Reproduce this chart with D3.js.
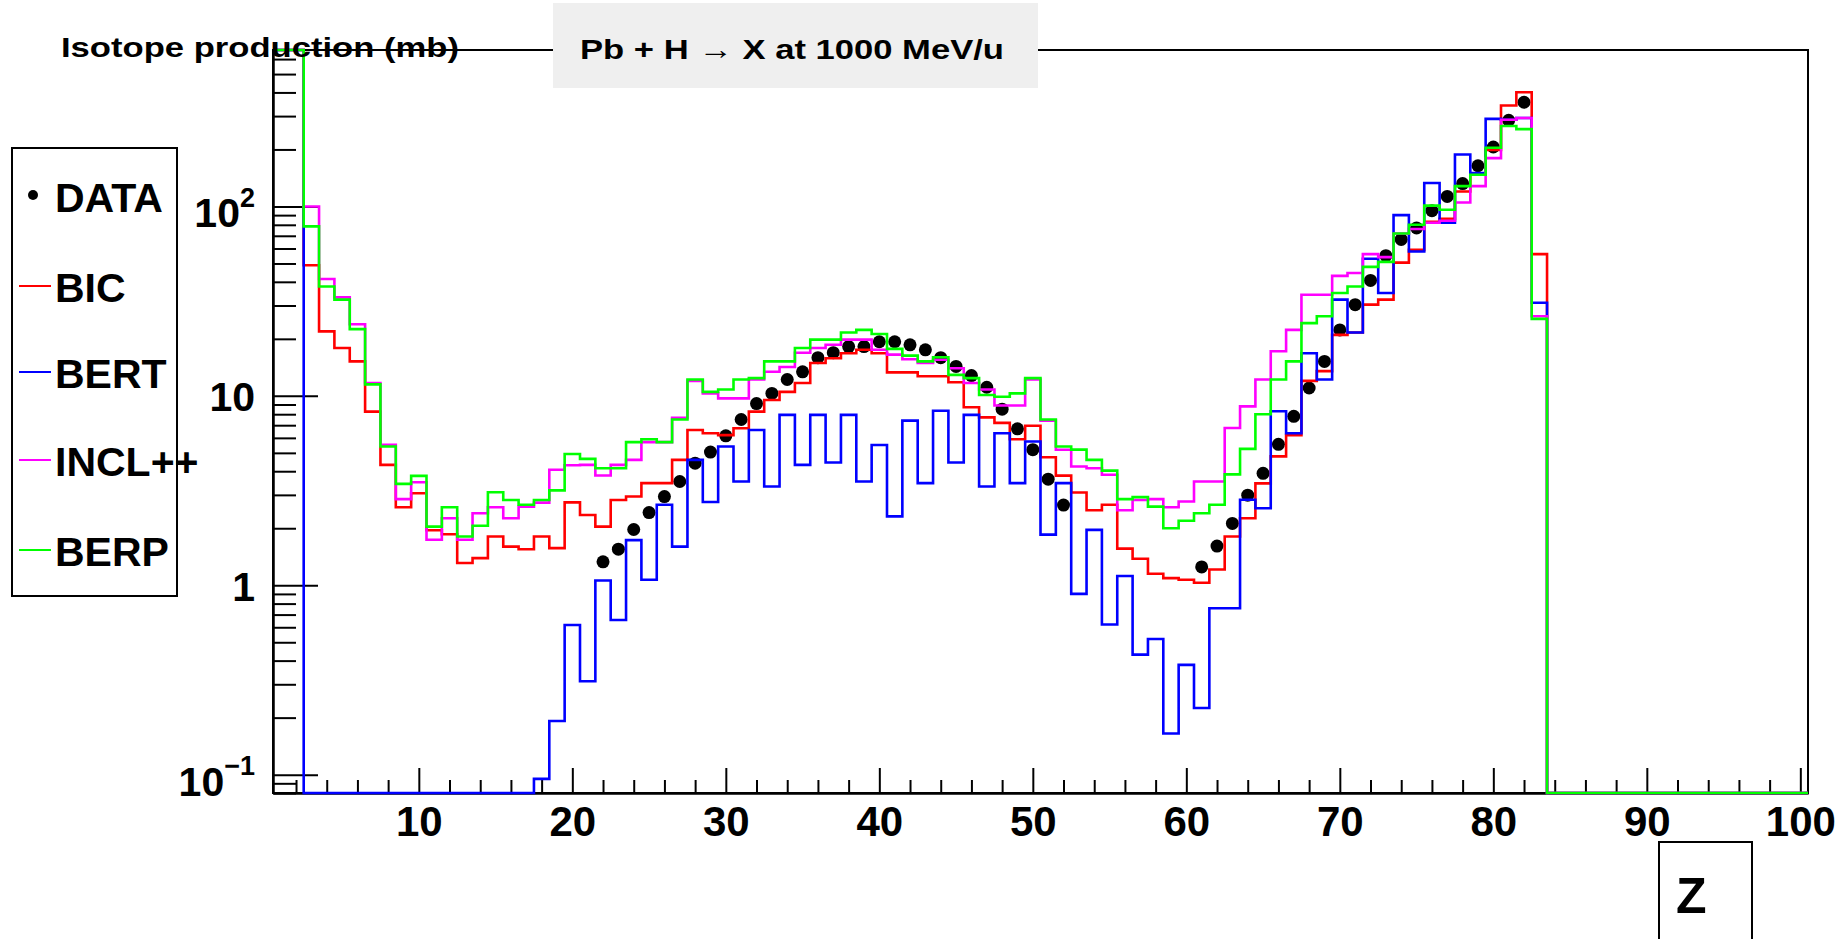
<!DOCTYPE html>
<html>
<head>
<meta charset="utf-8">
<script src="https://cdn.jsdelivr.net/npm/d3@7"></script>
<style>
  body { margin: 0; background: #fff; }
  text { font-family: "Liberation Sans", Arial, Helvetica, sans-serif; font-weight: bold; fill: #000; }
</style>
</head>
<body>
<div class="chart"></div>
<script>
// Pb + H -> X at 1000 MeV/u, isotope production vs Z

// DATA ------------------------------------------
// one value per Z bin, starting at Z = 1; bins past the end of a list are empty
// Z = 1, 2 are far above the plot range (clipped at the top)
const bic = [
  2000, 1000, 48.9, 21.9, 17.9, 15.2, 8.26, 4.32, 2.58, 3.06,
  1.95, 1.86, 1.31, 1.39, 1.81, 1.60, 1.55, 1.81, 1.57, 2.74,
  2.35, 2.04, 2.82, 2.94, 3.46, 3.46, 4.59, 6.6, 6.35, 6.2,
  6.75, 8.26, 9.5, 10.5, 11.7, 14.9, 15.8, 16.8, 17.5, 16.8,
  13.3, 13.3, 12.7, 12.7, 11.8, 8.7, 7.7, 7.2, 5.9, 6.95,
  4.74, 3.79, 3.09, 2.49, 2.66, 1.56, 1.38, 1.15, 1.09, 1.07,
  1.03, 1.21, 1.81, 2.26, 3.45, 4.79, 6.2, 12.0, 13.5, 21.0,
  21.6, 30.3, 32.2, 50.5, 59, 83, 86, 120, 147, 199,
  341, 401, 56
];
const bert = [
  2000, 1000, 0, 0, 0, 0, 0, 0, 0, 0,
  0, 0, 0, 0, 0, 0, 0, 0.095, 0.192, 0.617,
  0.311, 1.06, 0.655, 1.73, 1.07, 2.66, 1.6, 4.59, 2.75, 5.4,
  3.53, 6.6, 3.32, 7.94, 4.32, 7.94, 4.45, 7.94, 3.53, 5.5,
  2.31, 7.4, 3.46, 8.35, 4.45, 7.94, 3.32, 6.35, 3.46, 5.74,
  1.85, 3.46, 0.90, 1.96, 0.62, 1.12, 0.43, 0.52, 0.165, 0.38,
  0.225, 0.756, 0.756, 2.83, 2.55, 8.3, 6.35, 16.8, 12.2, 32.2,
  21.6, 53, 34.9, 90, 57.8, 133, 82, 188, 150, 290,
  287, 293, 31
];
const incl = [
  2000, 1000, 100, 41.4, 33.1, 23.9, 11.7, 5.51, 2.85, 3.5,
  1.74, 2.26, 1.74, 2.40, 2.58, 2.26, 2.6, 2.73, 4.07, 4.3,
  4.32, 3.8, 4.32, 4.59, 5.7, 5.7, 7.65, 12.0, 10.3, 9.7,
  9.7, 12.2, 13.4, 14.2, 16.9, 17.9, 18.6, 19.8, 19.8, 17.5,
  16.5, 15.6, 14.9, 15.5, 14.0, 11.7, 10.8, 8.9, 8.9, 12.2,
  7.4, 5.19, 4.24, 4.15, 3.83, 2.49, 2.82, 2.85, 2.58, 2.77,
  3.53, 3.53, 6.76, 8.8, 12.2, 17.2, 22.3, 34.2, 34.2, 43,
  44.5, 56, 54, 72, 76, 82, 84, 105, 128, 180,
  287, 293, 26.3
];
const berp = [
  2000, 1000, 78.5, 37.8, 32.2, 22.5, 11.5, 5.40, 3.43, 3.78,
  2.04, 2.58, 1.81, 2.06, 3.1, 2.82, 2.66, 2.82, 3.17, 4.93,
  4.65, 4.15, 4.15, 5.7, 5.9, 5.7, 7.5, 12.2, 10.5, 10.8,
  12.2, 12.4, 15.2, 15.2, 17.9, 19.8, 19.8, 21.6, 22.3, 21.2,
  17.7, 16.3, 15.2, 16.0, 12.9, 12.4, 10.1, 9.9, 10.3, 12.4,
  7.5, 5.4, 5.2, 4.59, 4.03, 2.85, 2.92, 2.60, 2.0, 2.19,
  2.40, 2.66, 3.85, 5.25, 8.0, 12.2, 15.2, 24.2, 26.3, 34.9,
  37.8, 48, 51, 72, 80, 101, 96, 128, 147, 204,
  266, 256, 25.5
];
const dataZ = [
  22, 23, 24, 25, 26, 27, 28, 29, 30, 31, 32, 33, 34, 35, 36, 37,
  38, 39, 40, 41, 42, 43, 44, 45, 46, 47, 48, 49, 50, 51, 52,
  61, 62, 63, 64, 65, 66, 67, 68, 69, 70, 71, 72, 73, 74, 75, 76,
  77, 78, 79, 80, 81, 82
];
const dataValues = [
  1.33, 1.55, 1.97, 2.42, 2.94, 3.53, 4.41, 5.05, 6.15, 7.5, 9.1, 10.3, 12.2, 13.4, 15.9, 16.9,
  18.2, 18.2, 19.3, 19.3, 18.6, 17.5, 15.9, 14.3, 12.8, 11.1, 8.5, 6.7, 5.2, 3.63, 2.65,
  1.25, 1.61, 2.12, 2.99, 3.9, 5.55, 7.8, 11.0, 15.2, 22.3, 30.3, 40.7, 55, 67, 77, 95,
  113, 132, 164, 206, 285, 355
];

const seriesNames = ['BIC', 'BERT', 'INCL++', 'BERP'];
const seriesColors = ['#ff0000', '#0000ff', '#ff00ff', '#00ff00'];
const seriesValues = [bic, bert, incl, berp];

const yMajorTicks = [0.1, 1, 10, 100];
const yTickLabels = [['10', '\u22121'], ['1', ''], ['10', ''], ['10', '2']];
const xMajorTicks = [10, 20, 30, 40, 50, 60, 70, 80, 90, 100];
const xMinorTicks = [2, 4, 6, 8, 12, 14, 16, 18, 22, 24, 26, 28, 32, 34, 36, 38, 42, 44, 46, 48,
  52, 54, 56, 58, 62, 64, 66, 68, 72, 74, 76, 78, 82, 84, 86, 88, 92, 94, 96, 98];

// CHART INIT ------------------------------------
const W = 1846, H = 939;
const frame = {left: 273, right: 1808, top: 50, bottom: 793};

const svg = d3.select('.chart')
  .append('svg')
  .attr('width', W)
  .attr('height', H);

const xScale = d3.scaleLinear()
  .domain([0.5, 100.5])
  .range([frame.left, frame.right]);

const yScale = d3.scaleLog()
  .domain([0.08, 670])
  .range([frame.bottom, frame.top])
  .clamp(true);

// empty bins sit on the bottom of the frame
const yPos = v => v > 0 ? yScale(v) : frame.bottom;

// frame
svg.append('rect')
  .attr('x', frame.left)
  .attr('y', frame.top)
  .attr('width', frame.right - frame.left)
  .attr('height', frame.bottom - frame.top)
  .attr('fill', 'none')
  .attr('stroke', '#000')
  .attr('stroke-width', 2);

// AXES ------------------------------------------
const yMinor = d3.axisLeft(yScale)
  .tickValues(yScale.ticks().filter(t => !yMajorTicks.includes(t)))
  .tickSizeInner(-23).tickSizeOuter(0).tickFormat('');
const yMajor = d3.axisLeft(yScale)
  .tickValues(yMajorTicks)
  .tickSizeInner(-45).tickSizeOuter(0).tickPadding(18).tickFormat('');

svg.append('g').attr('class', 'axis y-minor')
  .attr('transform', `translate(${frame.left},0)`).call(yMinor);
const gy = svg.append('g').attr('class', 'axis y-major')
  .attr('transform', `translate(${frame.left},0)`).call(yMajor);

gy.selectAll('.tick text').each(function(d, i) {
  const [base, sup] = yTickLabels[i];
  const t = d3.select(this)
    .attr('font-size', 41)
    .attr('dy', sup ? '0.5em' : '0.36em');
  t.append('tspan').text(base);
  if (sup) t.append('tspan').attr('font-size', 27).attr('dy', '-0.75em').text(sup);
});

const xMinor = d3.axisBottom(xScale)
  .tickValues(xMinorTicks).tickSizeInner(-13).tickSizeOuter(0).tickFormat('');
const xMajor = d3.axisBottom(xScale)
  .tickValues(xMajorTicks).tickSizeInner(-25).tickSizeOuter(0).tickPadding(13);

svg.append('g').attr('class', 'axis x-minor')
  .attr('transform', `translate(0,${frame.bottom})`).call(xMinor);
svg.append('g').attr('class', 'axis x-major')
  .attr('transform', `translate(0,${frame.bottom})`).call(xMajor)
  .selectAll('text').attr('font-size', 42);

svg.selectAll('.axis path, .axis line').attr('stroke', '#000').attr('stroke-width', 2);
svg.selectAll('.axis text').attr('fill', '#000')
  .attr('font-family', '"Liberation Sans", Arial, sans-serif').attr('font-weight', 'bold');

// MARKS -----------------------------------------
const plot = svg.append('g');

plot.selectAll('circle.data')
  .data(dataZ.map((z, i) => ({z, v: dataValues[i]})))
  .enter()
  .append('circle')
  .attr('class', 'data')
  .attr('cx', d => xScale(d.z))
  .attr('cy', d => yScale(d.v))
  .attr('r', 6.5)
  .attr('fill', '#000');

const step = d3.line()
  .curve(d3.curveStepAfter)
  .x(d => xScale(d.z))
  .y(d => yPos(d.v));

const zBins = d3.range(1, 101);

seriesValues.forEach((vals, s) => {
  const pts = zBins.map(z => ({z: z - 0.5, v: vals[z - 1] || 0}));
  pts.push({z: 100.5, v: pts[pts.length - 1].v});
  plot.append('path')
    .datum(pts)
    .attr('d', step)
    .attr('fill', 'none')
    .attr('stroke', seriesColors[s])
    .attr('stroke-width', 2.6);
});

// TITLES ----------------------------------------
svg.append('rect')
  .attr('x', 553).attr('y', 3)
  .attr('width', 485).attr('height', 85)
  .attr('fill', '#efefef');

svg.append('text')
  .attr('x', 580).attr('y', 59)
  .attr('font-size', 28)
  .attr('textLength', 424)
  .attr('lengthAdjust', 'spacingAndGlyphs')
  .text('Pb + H \u2192 X at 1000 MeV/u');

svg.append('text')
  .attr('x', 61).attr('y', 57)
  .attr('font-size', 28)
  .attr('textLength', 398)
  .attr('lengthAdjust', 'spacingAndGlyphs')
  .text('Isotope production (mb)');

// x axis title in its box
svg.append('rect')
  .attr('x', 1659).attr('y', 842)
  .attr('width', 93).attr('height', 120)
  .attr('fill', 'none')
  .attr('stroke', '#000')
  .attr('stroke-width', 2);
svg.append('text')
  .attr('x', 1676).attr('y', 913)
  .attr('font-size', 50)
  .text('Z');

// LEGEND ----------------------------------------
const legend = svg.append('g');
legend.append('rect')
  .attr('x', 12).attr('y', 148)
  .attr('width', 165).attr('height', 448)
  .attr('fill', '#fff')
  .attr('stroke', '#000')
  .attr('stroke-width', 2);

const legendRows = [195, 286, 372, 460, 550];

legend.append('circle')
  .attr('cx', 33).attr('cy', legendRows[0])
  .attr('r', 5).attr('fill', '#000');
legend.append('text')
  .attr('x', 55).attr('y', legendRows[0] + 17)
  .attr('font-size', 41)
  .text('DATA');

seriesNames.forEach((name, i) => {
  const y = legendRows[i + 1];
  legend.append('line')
    .attr('x1', 19).attr('x2', 51)
    .attr('y1', y).attr('y2', y)
    .attr('stroke', seriesColors[i])
    .attr('stroke-width', 2);
  legend.append('text')
    .attr('x', 55).attr('y', y + 16)
    .attr('font-size', 41)
    .text(name);
});
</script>
</body>
</html>
